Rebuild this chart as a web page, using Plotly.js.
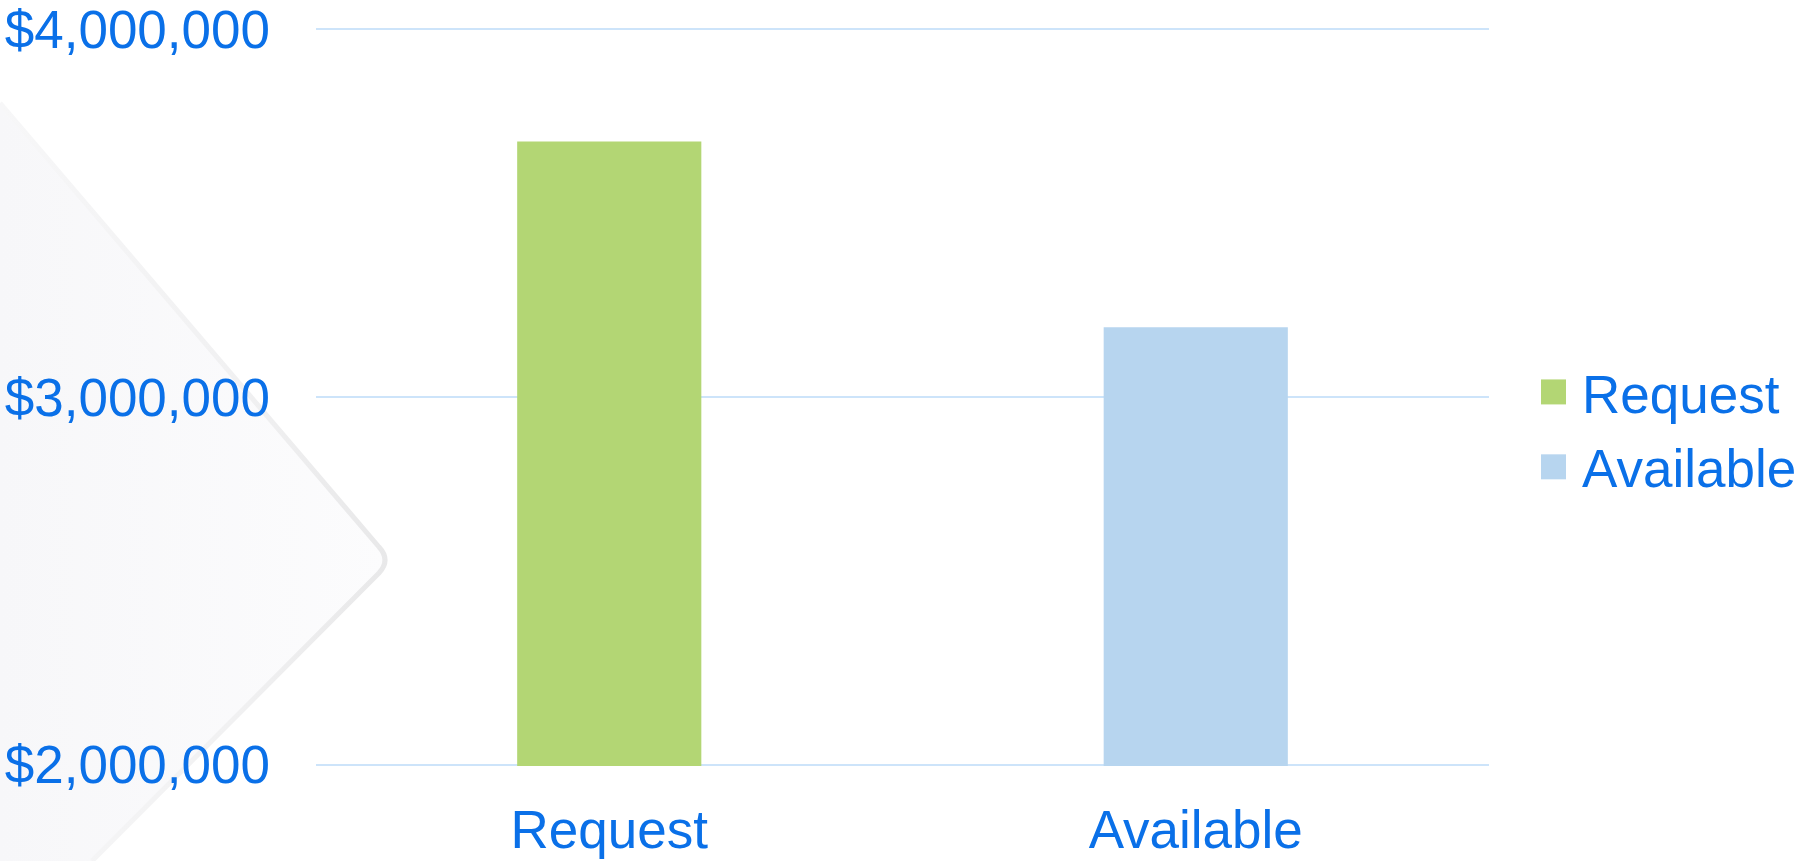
<!DOCTYPE html>
<html>
<head>
<meta charset="utf-8">
<script src="https://cdn.plot.ly/plotly-3.0.1.min.js"></script>
<style>
  html, body { margin: 0; padding: 0; background: #ffffff; }
  #wrap { position: relative; width: 1800px; height: 861px; overflow: hidden; }
  #deco { position: absolute; left: 0; top: 0; width: 1800px; height: 861px; }
  #chart { position: absolute; left: 0; top: 0; width: 1800px; height: 861px; }
</style>
</head>
<body>
<div id="wrap">
  <svg id="deco" width="1800" height="861" xmlns="http://www.w3.org/2000/svg">
    <defs>
      <linearGradient id="gfill" gradientUnits="userSpaceOnUse" x1="0" y1="0" x2="390" y2="0">
        <stop offset="0" stop-color="#f7f7f9"/>
        <stop offset="1" stop-color="#fcfcfd"/>
      </linearGradient>
      <linearGradient id="gstroke" gradientUnits="userSpaceOnUse" x1="0" y1="0" x2="390" y2="0">
        <stop offset="0" stop-color="#f7f7f8"/>
        <stop offset="0.6" stop-color="#f1f1f2"/>
        <stop offset="1" stop-color="#e8e8e9"/>
      </linearGradient>
    </defs>
    <path d="M0,103 L379,547 Q391,560 379,573 L92,861 L0,861 Z" fill="url(#gfill)" stroke="none"/>
    <path d="M0,103 L379,547 Q391,560 379,573 L92,861" fill="none" stroke="url(#gstroke)" stroke-width="5" stroke-linejoin="round"/>
  </svg>
  <div id="chart"></div>
</div>
<script>
const categories = ['Request', 'Available'];
const values = [3695000, 3190000];
const seriesNames = ['Request', 'Available'];
const yTicks = [2000000, 3000000, 4000000];

const barColors = ['#b3d674', '#b7d5ef'];
const textColor = '#0a70e8';
const fontFamily = 'Liberation Sans, Arial, sans-serif';

const traces = categories.map((c, i) => ({
  type: 'bar',
  name: seriesNames[i],
  legendgroup: 'g' + i,
  x: [c],
  y: [values[i]],
  marker: { color: barColors[i] },
  hoverinfo: 'x+y'
}));

const layout = {
  width: 1800,
  height: 861,
  margin: { l: 316, r: 311, t: 27.5, b: 94.5, autoexpand: false },
  paper_bgcolor: 'rgba(0,0,0,0)',
  plot_bgcolor: 'rgba(0,0,0,0)',
  barmode: 'overlay',
  bargap: 0.686,
  font: { family: fontFamily, color: textColor, size: 53 },
  xaxis: {
    type: 'category',
    categoryarray: categories,
    showgrid: false,
    showline: false,
    zeroline: false,
    ticks: '',
    ticklabelstandoff: 28,
    tickfont: { family: fontFamily, color: textColor, size: 53 }
  },
  yaxis: {
    range: [1996000, 4004000],
    tickvals: yTicks,
    tickformat: '$,.0f',
    showgrid: true,
    gridcolor: '#cde4fa',
    gridwidth: 2,
    showline: false,
    zeroline: false,
    ticks: '',
    ticklabelstandoff: 45,
    tickfont: { family: fontFamily, color: textColor, size: 53 }
  },
  showlegend: true,
  legend: {
    x: 1.0307,
    xanchor: 'left',
    y: 0.456,
    yanchor: 'middle',
    bgcolor: 'rgba(0,0,0,0)',
    itemwidth: 47,
    font: { family: fontFamily, color: textColor, size: 53 },
    tracegroupgap: 3
  }
};

Plotly.newPlot('chart', traces, layout, { displayModeBar: false, staticPlot: true }).then(function () {
  document.querySelectorAll('#chart .legendpoints path').forEach(function (p) {
    p.setAttribute('d', 'M12.5,12.5H-12.5V-12.5H12.5Z');
  });
});
</script>
</body>
</html>
